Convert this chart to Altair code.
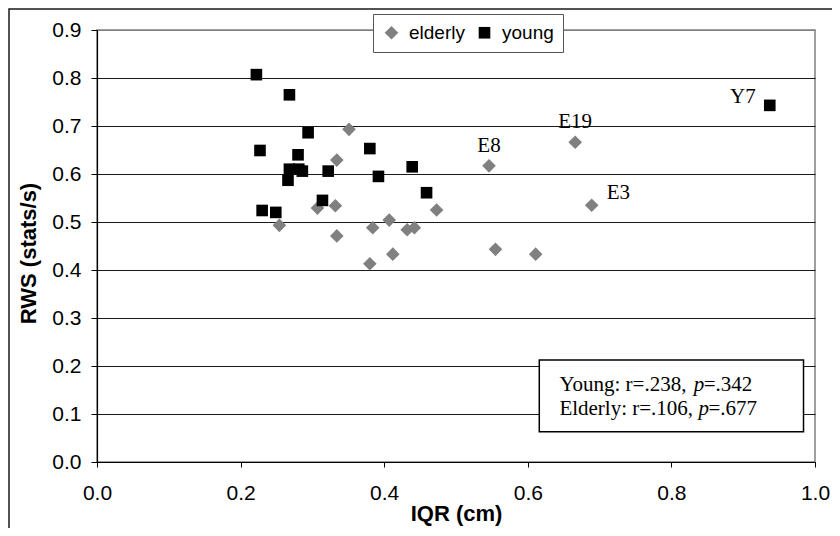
import altair as alt
import pandas as pd

# ---- data ----
young_iqr = [0.222, 0.268, 0.294, 0.227, 0.280, 0.268, 0.281, 0.286, 0.266,
             0.322, 0.380, 0.392, 0.439, 0.459, 0.314, 0.230, 0.249, 0.937]
young_rws = [0.807, 0.765, 0.686, 0.649, 0.640, 0.610, 0.610, 0.606, 0.587,
             0.606, 0.653, 0.595, 0.615, 0.561, 0.545, 0.524, 0.520, 0.743]
young_lab = [""] * 17 + ["Y7"]

elderly_iqr = [0.351, 0.334, 0.307, 0.332, 0.254, 0.334, 0.384, 0.407, 0.432,
               0.442, 0.473, 0.380, 0.412, 0.546, 0.666, 0.689, 0.555, 0.611]
elderly_rws = [0.693, 0.629, 0.529, 0.534, 0.493, 0.471, 0.488, 0.504, 0.484,
               0.488, 0.525, 0.413, 0.433, 0.617, 0.666, 0.535, 0.443, 0.433]
elderly_lab = [""] * 13 + ["E8", "E19", "E3", "", ""]

groups = ["elderly", "young"]
x_ticks = [0.0, 0.2, 0.4, 0.6, 0.8, 1.0]
y_ticks = [0.0, 0.1, 0.2, 0.3, 0.4, 0.5, 0.6, 0.7, 0.8, 0.9]

stat_part1 = ["Young: r=.238, ", "Elderly: r=.106, "]
stat_part2 = ["p", "p"]
stat_part3 = ["=.342", "=.677"]

# ---- tables ----
df = pd.DataFrame({
    "IQR": elderly_iqr + young_iqr,
    "RWS": elderly_rws + young_rws,
    "group": ["elderly"] * len(elderly_iqr) + ["young"] * len(young_iqr),
    "label": elderly_lab + young_lab,
})

PLOT_W, PLOT_H = 718, 432
SANS = "Liberation Sans"
SERIF = "Liberation Serif"

xs = alt.Scale(domain=[0, 1], nice=False)
ys = alt.Scale(domain=[0, 0.9], nice=False)

base = alt.Chart(df)

points = base.mark_point(filled=True, opacity=1, strokeWidth=0).encode(
    x=alt.X("IQR:Q", scale=xs,
            axis=alt.Axis(values=x_ticks, format=".1f", title="IQR (cm)", grid=False)),
    y=alt.Y("RWS:Q", scale=ys,
            axis=alt.Axis(values=y_ticks, format=".1f", title="RWS (stats/s)",
                          grid=True,
                          gridColor={"condition": {"test": "datum.value > 0.85", "value": "#808080"},
                                     "value": "#1a1a1a"})),
    shape=alt.Shape("group:N", scale=alt.Scale(domain=groups, range=["diamond", "square"]),
                    legend=alt.Legend(title=None)),
    color=alt.Color("group:N", scale=alt.Scale(domain=groups, range=["#808080", "#000000"]),
                    legend=alt.Legend(title=None)),
    size=alt.Size("group:N", scale=alt.Scale(domain=groups, range=[185, 135]), legend=None),
)

lab_font = dict(font=SERIF, fontSize=21, color="black")
lab_top = base.transform_filter("datum.label == 'E8' || datum.label == 'E19'").mark_text(
    align="center", baseline="alphabetic", dy=-14, **lab_font).encode(
    x="IQR:Q", y="RWS:Q", text="label:N")
lab_right = base.transform_filter("datum.label == 'E3'").mark_text(
    align="left", baseline="alphabetic", dx=15, dy=-6, **lab_font).encode(
    x="IQR:Q", y="RWS:Q", text="label:N")
lab_left = base.transform_filter("datum.label == 'Y7'").mark_text(
    align="right", baseline="alphabetic", dx=-14, dy=-2, **lab_font).encode(
    x="IQR:Q", y="RWS:Q", text="label:N")

# ---- statistics box (annotation in data space) ----
box = alt.Chart(pd.DataFrame({"x": [0.616], "x2": [0.984], "y": [0.2125], "y2": [0.063]})).mark_rect(
    fill="white", stroke="black", strokeWidth=1.5).encode(
    x=alt.X("x:Q", scale=xs), x2="x2:Q", y=alt.Y("y:Q", scale=ys), y2="y2:Q")

x0 = 0.644
w1 = [134.3 / PLOT_W, 139.0 / PLOT_W]
wp = 10.0 / PLOT_W
stats = pd.DataFrame({
    "t1": stat_part1, "t2": stat_part2, "t3": stat_part3,
    "y": [0.1485, 0.098],
    "x1": [x0, x0],
    "x2": [x0 + w1[0], x0 + w1[1]],
    "x3": [x0 + w1[0] + wp, x0 + w1[1] + wp],
})
sb = alt.Chart(stats)
st1 = sb.mark_text(align="left", baseline="alphabetic", **lab_font).encode(
    x=alt.X("x1:Q", scale=xs), y=alt.Y("y:Q", scale=ys), text="t1:N")
st2 = sb.mark_text(align="left", baseline="alphabetic", fontStyle="italic", **lab_font).encode(
    x=alt.X("x2:Q", scale=xs), y=alt.Y("y:Q", scale=ys), text="t2:N")
st3 = sb.mark_text(align="left", baseline="alphabetic", **lab_font).encode(
    x=alt.X("x3:Q", scale=xs), y=alt.Y("y:Q", scale=ys), text="t3:N")

# ---- outer chart frame (cropped at right/bottom like the reference) ----
frame = alt.Chart(pd.DataFrame({"a": [0]})).mark_rect(
    fill=None, stroke="#1a1a1a", strokeWidth=1.5).encode(
    x=alt.value(-88), y=alt.value(-21), x2=alt.value(1200), y2=alt.value(1000))

chart = alt.layer(frame, points, box, st1, st2, st3, lab_top, lab_right, lab_left).resolve_scale(
    x="shared", y="shared"
).properties(
    width=PLOT_W, height=PLOT_H,
    autosize=alt.AutoSizeParams(type="none"),
    padding={"left": 89, "top": 22, "right": 17, "bottom": 66},
).configure_view(
    stroke="#808080", strokeWidth=1.5
).configure_axis(
    labelFont=SANS, labelFontSize=21, labelColor="black",
    titleFont=SANS, titleFontSize=22, titleFontWeight="bold", titleColor="black",
    domainColor="black", domainWidth=1.2, tickColor="black", tickWidth=1,
    labelFlush=False, labelOverlap=False,
).configure_axisX(
    tickSize=5, labelPadding=15, titlePadding=0,
).configure_axisY(
    tickSize=6, labelPadding=10, titleX=-69, titleY=223, titleAngle=270,
    titleAlign="center", titleBaseline="middle",
).configure_legend(
    orient="none", legendX=276, legendY=-16, direction="horizontal",
    fillColor="white", strokeColor="#555555", padding=9,
    labelFont=SANS, labelFontSize=19, labelColor="black",
    symbolSize=140, symbolStrokeWidth=0, columnPadding=10, labelOffset=8,
)

chart.save("out.html", embed_options={"renderer": "svg", "actions": False})
